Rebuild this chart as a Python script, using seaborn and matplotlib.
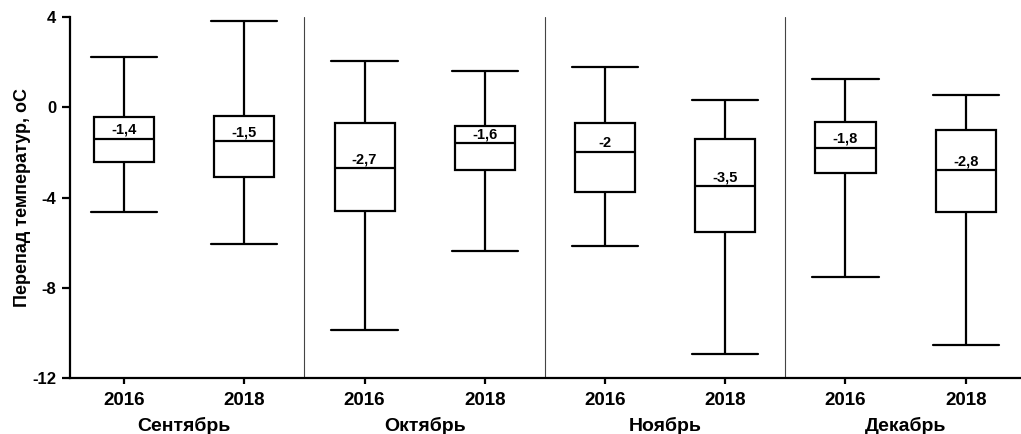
import matplotlib
matplotlib.use("Agg")
import matplotlib.pyplot as plt
import matplotlib.transforms as mtransforms
import seaborn as sns
import pandas as pd

months = ["Сентябрь", "Октябрь", "Ноябрь", "Декабрь"]
years = ["2016", "2018"]
# per box (month-major, year-minor): whisker min, Q1, median, Q3, whisker max
w_min = [-4.63, -6.04, -9.89, -6.36, -6.14, -10.92, -7.53, -10.53]
q1 = [-2.41, -3.07, -4.61, -2.76, -3.76, -5.52, -2.91, -4.66]
medians = [-1.4, -1.5, -2.7, -1.6, -2.0, -3.5, -1.8, -2.8]
q3 = [-0.44, -0.38, -0.71, -0.83, -0.71, -1.40, -0.65, -1.02]
w_max = [2.23, 3.84, 2.05, 1.62, 1.79, 0.31, 1.24, 0.56]
median_labels = ["-1,4", "-1,5", "-2,7", "-1,6", "-2", "-3,5", "-1,8", "-2,8"]

ylabel = "Перепад температур, оС"
yticks = [4, 0, -4, -8, -12]

sns.set_style("white")
plt.rcParams["font.family"] = ["Liberation Sans", "DejaVu Sans"]
plt.rcParams["font.weight"] = "bold"
plt.rcParams["text.color"] = "black"
plt.rcParams["axes.labelcolor"] = "black"
plt.rcParams["xtick.color"] = "black"
plt.rcParams["ytick.color"] = "black"

groups = [f"{m} {y}" for m in months for y in years]
rows = []
for i, g in enumerate(groups):
    for v in (w_min[i], q1[i], medians[i], q3[i], w_max[i]):
        rows.append({"group": g, "value": v})
df = pd.DataFrame(rows)

fig = plt.figure(figsize=(10.21, 4.34), dpi=100)
ax = fig.add_axes([70 / 1021, 56 / 434, 951 / 1021, 361 / 434])

sns.boxplot(data=df, x="group", y="value", order=groups, whis=(0, 100),
            width=0.5, color="white", linecolor="black", linewidth=1.6,
            fill=True, showfliers=False, ax=ax, capwidths=0.55)

for i, lab in enumerate(median_labels):
    ax.annotate(lab, xy=(i, medians[i]), xytext=(0, 1.5), textcoords="offset points",
                ha="center", va="bottom", fontsize=10.5, fontweight="bold",
                color="black")

for xs in (1.5, 3.5, 5.5):
    ax.axvline(xs, color="#444444", lw=0.8, zorder=0)

ax.set_xlim(-0.45, 7.46)
ax.set_ylim(-12, 4)
ax.set_yticks(yticks)
ax.set_yticklabels([str(t) for t in yticks], fontsize=12, fontweight="bold")
ax.set_xticks(range(len(groups)))
ax.set_xticklabels([y for m in months for y in years], fontsize=13.5, fontweight="bold")
ax.set_xlabel("")
ax.set_ylabel(ylabel, fontsize=13, fontweight="bold", labelpad=1)

for s in ("top", "right"):
    ax.spines[s].set_visible(False)
for s in ("left", "bottom"):
    ax.spines[s].set_linewidth(1.6)
    ax.spines[s].set_color("black")
ax.tick_params(axis="both", which="major", direction="out", width=1.6,
               color="black", labelcolor="black", left=True, bottom=True)
ax.tick_params(axis="x", length=4, pad=6)
ax.tick_params(axis="y", length=6, pad=4)

trans = mtransforms.blended_transform_factory(ax.transData, ax.transAxes)
for k, m in enumerate(months):
    ax.text(2 * k + 0.5, -0.133, m, transform=trans, ha="center", va="center",
            fontsize=14, fontweight="bold", color="black")

fig.savefig("out.png", dpi=100)
